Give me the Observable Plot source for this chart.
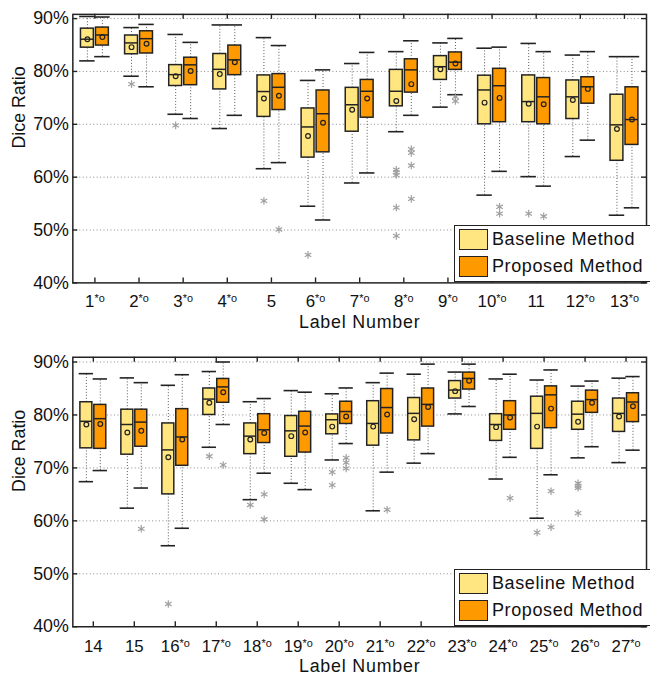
<!DOCTYPE html>
<html>
<head>
<meta charset="utf-8">
<script src="https://cdn.jsdelivr.net/npm/d3@7"></script>
<script src="https://cdn.jsdelivr.net/npm/@observablehq/plot@0.6"></script>
<style>
  html, body { margin: 0; padding: 0; background: #fff; overflow: hidden; }
  #wrap { position: relative; width: 650px; height: 677px; overflow: hidden; font-family: "Liberation Sans", Arial, sans-serif; color: #111; }
  #wrap svg { position: absolute; left: 0; }
  .legend { position: absolute; left: 454px; width: 210px; height: 57px; background: #fff; border: 1.5px solid #222; box-sizing: border-box; }
  .sw { position: absolute; left: 4px; width: 29px; height: 21px; border: 1.5px solid #222; box-sizing: border-box; }
  .lt { position: absolute; left: 37px; font-size: 18px; letter-spacing: 0.6px; line-height: 21px; white-space: nowrap; }
</style>
</head>
<body>
<div id="wrap"></div>
<script>
// ---- Data ----
const labelsTop = [1,2,3,4,5,6,7,8,9,10,11,12,13];
const labelsBottom = [14,15,16,17,18,19,20,21,22,23,24,25,26,27];
const unstarred = [5, 11, 14, 15]; // labels without "*o"
const yTicks = [40, 50, 60, 70, 80, 90];
const methods = ["Baseline Method", "Proposed Method"];
const colors = ["#FFE680", "#FF9900"];

// Baseline Method, labels 1..27
const baseLow  = [82.0,79.1,71.9,69.2,61.6,54.5,58.9,68.6,73.25,56.6,60.1,63.9,52.8, 67.4,62.4,55.3,73.9,64.0,67.1,71.5,61.9,70.9,80.2,67.9,60.5,71.9,71.0];
const baseQ1   = [84.5,83.25,77.25,76.6,71.4,63.7,68.6,73.4,78.4,70.0,70.4,71.0,63.1, 73.7,72.5,65.0,80.0,72.6,72.1,76.35,74.2,75.2,83.1,75.1,73.6,77.2,76.8];
const baseMed  = [86.1,85.4,79.4,80.4,76.2,69.5,73.7,76.25,80.9,76.5,74.3,75.2,69.9, 78.8,78.2,73.4,83.0,76.0,77.0,79.1,78.4,80.3,84.7,78.2,80.3,80.15,80.3];
const baseQ3   = [88.1,86.8,81.2,83.3,79.25,73.0,76.9,80.3,82.9,79.2,79.25,78.3,75.6, 82.4,81.0,78.4,85.0,78.4,79.8,80.1,82.6,83.2,86.4,80.15,83.45,82.5,83.1];
const baseHigh = [90.4,88.3,87.0,88.8,86.4,78.3,81.5,83.75,85.4,84.4,85.3,83.1,82.8, 87.8,87.0,85.6,88.2,82.5,84.6,84.0,86.1,87.7,88.1,86.8,86.6,85.45,86.95];
const baseMean = [86.1,84.6,79.1,79.5,74.9,67.8,72.75,74.4,80.4,74.1,73.9,74.6,69.1, 78.2,76.7,72.0,82.3,75.35,76.0,77.8,77.8,79.2,84.5,77.7,77.8,78.7,79.7];
// Proposed Method, labels 1..27
const propLow  = [82.8,77.1,71.1,71.7,62.75,51.9,60.8,71.7,75.6,61.1,58.3,67.0,54.2, 69.5,66.2,58.6,78.2,69.0,65.9,74.6,69.2,72.7,81.6,72.0,68.7,74.0,73.35];
const propQ1   = [84.9,83.4,77.4,79.3,72.7,64.7,71.25,76.0,80.3,70.4,70.0,73.9,66.1, 73.6,74.0,70.4,82.3,74.7,72.9,78.3,76.5,77.8,84.8,77.2,77.5,80.4,78.65];
const propMed  = [86.9,86.2,81.25,82.2,77.0,72.0,76.25,80.3,81.75,77.3,75.2,77.1,70.9, 79.3,78.65,75.85,85.3,77.2,77.9,80.65,81.4,82.0,86.9,80.0,83.8,82.9,82.45];
const propQ3   = [88.3,87.6,82.6,84.9,79.5,76.4,78.4,82.3,83.6,80.5,78.75,78.9,77.0, 81.9,81.0,81.1,86.8,80.15,80.6,82.5,84.9,85.0,88.0,82.6,85.4,84.6,84.1];
const propHigh = [90.3,88.9,85.5,88.8,84.9,80.3,83.6,85.8,86.25,84.6,83.75,83.75,82.8, 86.8,86.1,87.6,90.0,83.1,84.3,85.1,87.9,89.6,89.6,87.7,88.5,86.4,87.25];
const propMean = [86.5,85.25,80.1,81.75,75.4,70.3,74.9,77.6,81.5,75.0,73.8,76.7,70.9, 78.3,77.0,75.35,84.3,76.6,76.7,79.7,80.1,81.5,86.45,79.5,81.2,82.3,81.65];

// Outliers [label, value]
const baseOutliers = [[2,77.6],[3,69.8],[5,55.5],[6,45.3],[8,61.4],[8,60.9],[8,60.4],[8,54.25],[8,48.9],[11,53.1],
  [16,44.3],[17,72.2],[18,63.0],[20,69.2],[20,66.75],[25,57.8],[26,67.1],[26,66.6],[26,66.25],[26,61.45]];
const propOutliers = [[5,50.1],[8,65.3],[8,64.6],[8,62.2],[8,55.9],[9,75.2],[9,74.4],[10,54.4],[10,53.1],[11,52.6],
  [15,58.5],[17,70.55],[18,65.0],[18,60.3],[20,71.9],[20,71.0],[20,69.9],[21,62.1],[24,64.3],[25,65.6],[25,58.8]];

// ---- Build tables ----
const stats = [
  {low: baseLow, q1: baseQ1, med: baseMed, q3: baseQ3, high: baseHigh, mean: baseMean, out: baseOutliers},
  {low: propLow, q1: propQ1, med: propMed, q3: propQ3, high: propHigh, mean: propMean, out: propOutliers}
];
const OFF = [-0.17, 0.17], HW = 0.146, CW = 0.175;
function rowsFor(labels) {
  const rows = [];
  stats.forEach((s, m) => labels.forEach(l => {
    const i = l - 1;
    rows.push({label: l, m, c: l + OFF[m], low: s.low[i], q1: s.q1[i], med: s.med[i], q3: s.q3[i], high: s.high[i], mean: s.mean[i]});
  }));
  return rows;
}
function outliersFor(labels) {
  const rows = [];
  stats.forEach((s, m) => s.out.forEach(([l, v]) => { if (labels.includes(l)) rows.push({c: l + OFF[m], v}); }));
  return rows;
}

const W = 656, ML = 73, MR = 4;
const ink = "#222";

function panel(labels, height, marginTop, marginBottom, ymax, tickDy, labelDy) {
  const rows = rowsFor(labels);
  const outs = outliersFor(labels);
  const plotH = height - marginTop - marginBottom;
  const plotW = W - ML - MR;
  const svg = Plot.plot({
    width: W, height, marginLeft: ML, marginRight: MR, marginTop, marginBottom,
    x: {type: "linear", domain: [labels[0] - 0.5, labels[labels.length - 1] + 0.5], axis: null},
    y: {domain: [40, ymax], axis: null},
    style: {fontFamily: "'Liberation Sans', Arial, sans-serif", background: "transparent", color: "#111", overflow: "visible"},
    marks: [
      Plot.ruleY(yTicks.filter(d => d > 40), {y: d => d, stroke: "#8a8a8a", strokeDasharray: "1,2.5", strokeWidth: 1}),
      // whiskers
      Plot.ruleX(rows, {x: "c", y1: "q3", y2: "high", stroke: "#555", strokeDasharray: "1,2", strokeWidth: 1}),
      Plot.ruleX(rows, {x: "c", y1: "low", y2: "q1", stroke: "#555", strokeDasharray: "1,2", strokeWidth: 1}),
      // caps
      Plot.ruleY(rows, {y: "high", x1: d => d.c - CW, x2: d => d.c + CW, stroke: ink, strokeWidth: 1.6}),
      Plot.ruleY(rows, {y: "low", x1: d => d.c - CW, x2: d => d.c + CW, stroke: ink, strokeWidth: 1.6}),
      // boxes
      Plot.rect(rows, {x1: d => d.c - HW, x2: d => d.c + HW, y1: "q1", y2: "q3", fill: d => colors[d.m], stroke: ink, strokeWidth: 1.5}),
      Plot.ruleY(rows, {y: "med", x1: d => d.c - HW, x2: d => d.c + HW, stroke: ink, strokeWidth: 1.5}),
      Plot.dot(rows, {x: "c", y: "mean", r: 2.4, stroke: ink, strokeWidth: 1.2, fill: "none"}),
      // outliers
      Plot.dot(outs, {x: "c", y: "v", symbol: "asterisk", r: 3.6, stroke: "#a0a0a0", strokeWidth: 1.2}),
      // frame and inward ticks
      Plot.frame({stroke: ink, strokeWidth: 1.5}),
      Plot.ruleX(labels, {x: d => d, insetTop: plotH - 5, stroke: ink, strokeWidth: 1.4}),
      Plot.ruleX(labels, {x: d => d, insetBottom: plotH - 5, stroke: ink, strokeWidth: 1.4}),
      Plot.ruleY(yTicks, {y: d => d, insetRight: plotW - 5, stroke: ink, strokeWidth: 1.4}),
      Plot.ruleY(yTicks, {y: d => d, insetLeft: plotW - 5, stroke: ink, strokeWidth: 1.4}),
      // tick labels
      Plot.text(yTicks, {y: d => d, frameAnchor: "left", dx: -4, textAnchor: "end", lineAnchor: "middle", text: d => d + "%", fontSize: 18, fill: "#111"}),
      Plot.text(labels, {x: d => d, frameAnchor: "bottom", dy: tickDy, lineAnchor: "middle", text: d => unstarred.includes(d) ? String(d) : d + "*o", fontSize: 17, fill: "#111"}),
      Plot.text(["Label Number"], {frameAnchor: "bottom", dy: labelDy, lineAnchor: "middle", fontSize: 18, fill: "#111"}),
      Plot.text(["Dice Ratio"], {frameAnchor: "left", dx: -54, rotate: -90, lineAnchor: "middle", fontSize: 18, fill: "#111"})
    ]
  });
  // superscript "*o"
  svg.querySelectorAll('text').forEach(t => {
    const s = t.textContent;
    if (/^\d+\*o$/.test(s)) {
      t.textContent = s.slice(0, -2);
      const ts = document.createElementNS("http://www.w3.org/2000/svg", "tspan");
      ts.setAttribute("dy", "-5");
      ts.setAttribute("font-size", "11");
      ts.textContent = "*o";
      t.appendChild(ts);
    }
    if (s === "Label Number") t.setAttribute("letter-spacing", "0.8");
  });
  return svg;
}

function legend(top) {
  const div = document.createElement("div");
  div.className = "legend";
  div.style.top = top + "px";
  methods.forEach((name, i) => {
    const sw = document.createElement("div");
    sw.className = "sw";
    sw.style.top = (i === 0 ? 3 : 30) + "px";
    sw.style.background = colors[i];
    const lt = document.createElement("div");
    lt.className = "lt";
    lt.style.top = (i === 0 ? 3 : 30) + "px";
    lt.textContent = name;
    div.appendChild(sw);
    div.appendChild(lt);
  });
  return div;
}

const wrap = document.getElementById("wrap");
const top1 = panel(labelsTop, 330, 14, 45, 90.8, 19, 40);
top1.style.top = "0px";
const bot1 = panel(labelsBottom, 347, 27, 48, 90.9, 20, 40);
bot1.style.top = "330px";
wrap.appendChild(top1);
wrap.appendChild(bot1);
wrap.appendChild(legend(225));
wrap.appendChild(legend(569));
</script>
</body>
</html>
